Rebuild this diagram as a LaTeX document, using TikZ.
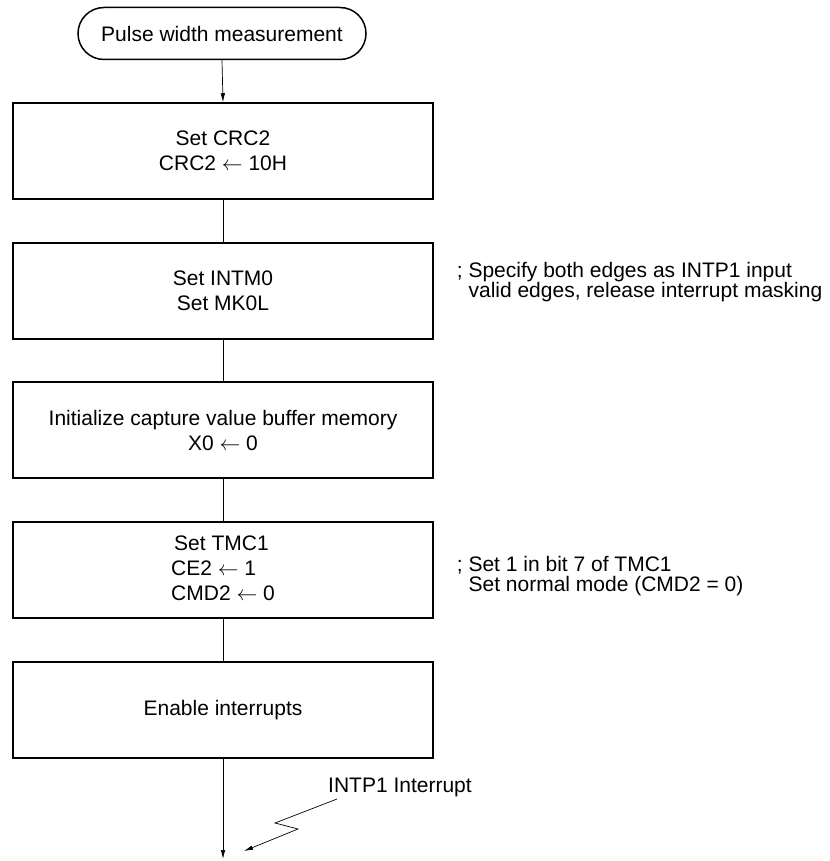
\documentclass[tikz,border=0pt]{standalone}
\usepackage{fontspec}
\setmainfont{Liberation Sans}
\usetikzlibrary{arrows.meta}
\begin{document}
\begin{tikzpicture}[x=1pt,y=-1pt,
  every node/.style={font=\fontsize{21}{25}\selectfont},
  procbox/.style={draw, line width=1.5pt, minimum width=420pt, minimum height=96pt, align=center, inner sep=0pt},
  termbox/.style={draw, line width=1.5pt, rounded corners=26pt, minimum width=288pt, minimum height=52pt, inner sep=0pt},
  conn/.style={line width=0.7pt},
  arr/.style={conn, -{Latex[length=9pt,width=4.5pt]}},
  note/.style={align=left, inner sep=0pt, anchor=base west, font=\fontsize{21}{20}\selectfont}
]
\useasboundingbox (0,0) rectangle (829,861);
\node[termbox] (start) at (222,33.5) {Pulse width measurement};
\node[procbox] (b1) at (223,151) {Set CRC2\\CRC2 $\leftarrow$ 10H};
\node[procbox] (b2) at (223,291) {Set INTM0\\Set MK0L};
\node[procbox] (b3) at (223,430) {Initialize capture value buffer memory\\X0 $\leftarrow$ 0};
\node[procbox] (b4) at (223,570) {\begin{tabular}{@{}l@{}}\hspace{3pt}Set TMC1\\CE2 $\leftarrow$ 1\\CMD2 $\leftarrow$ 0\end{tabular}};
\node[procbox] (b5) at (223,710) {Enable interrupts};
\coordinate (end) at (223,859);
\draw[arr] (start.south) -- (b1.north);
\draw[conn] (b1.south) -- (b2.north);
\draw[conn] (b2.south) -- (b3.north);
\draw[conn] (b3.south) -- (b4.north);
\draw[conn] (b4.south) -- (b5.north);
\draw[arr] (b5.south) -- (end);
\node[note] (c1) at (456.7,297.7) {; Specify both edges as INTP1 input\\\phantom{; }valid edges, release interrupt masking};
\node[note] (c2) at (456.7,591) {; Set 1 in bit 7 of TMC1\\\phantom{; }Set normal mode (CMD2 = 0)};
\node[note] (intl) at (328,792) {INTP1 Interrupt};
\coordinate (z0) at (337,799);
\coordinate (z1) at (275,823);
\coordinate (z2) at (298,829);
\coordinate (z3) at (244,851);
\draw[arr] (z0) -- (z1) -- (z2) -- (z3);
\end{tikzpicture}
\end{document}
